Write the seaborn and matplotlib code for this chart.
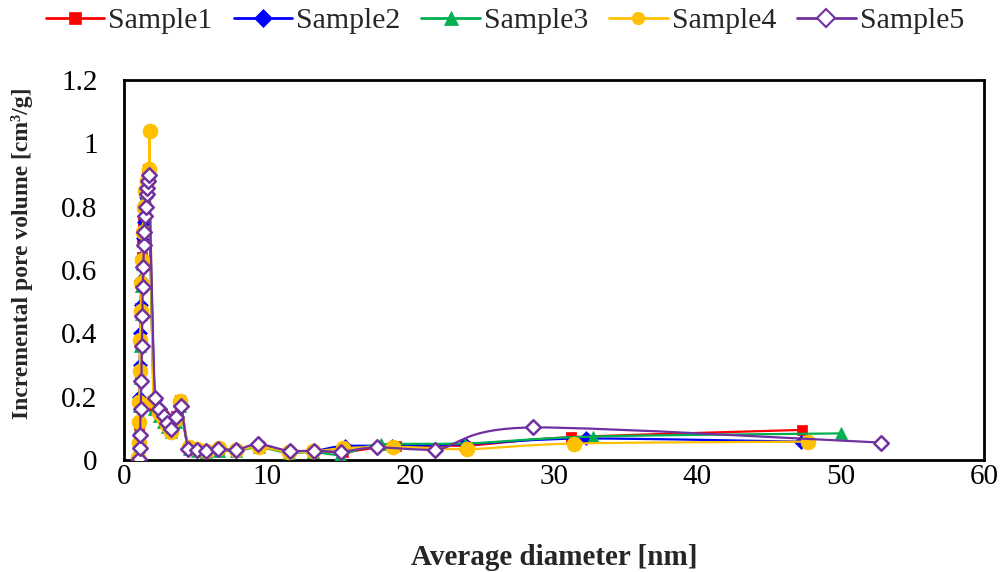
import numpy as np
import pandas as pd
import matplotlib
matplotlib.use("Agg")
import matplotlib.pyplot as plt
from matplotlib.path import Path
from matplotlib.patches import PathPatch
from matplotlib.lines import Line2D
import seaborn as sns

# ---------------- data ----------------
samples = ["Sample1", "Sample2", "Sample3", "Sample4", "Sample5"]

s1_x = [1.00, 1.03, 1.05, 1.07, 1.09, 1.12, 1.15, 1.19, 1.23, 1.28, 1.33, 1.39, 1.45, 1.52, 1.60, 1.70,
        2.10, 2.45, 2.75, 3.00, 3.30, 3.60, 3.90,
        4.5, 5.1, 5.8, 6.6, 7.8, 9.4, 11.5, 13.2, 15.3, 19.0, 23.8, 31.2, 47.3]
s1_y = [0.005, 0.05, 0.11, 0.18, 0.27, 0.37, 0.48, 0.56, 0.64, 0.70, 0.75, 0.80, 0.84, 0.87, 0.90, 0.92,
        0.17, 0.15, 0.14, 0.12, 0.10, 0.14, 0.19,
        0.04, 0.035, 0.03, 0.035, 0.03, 0.045, 0.025, 0.028, 0.025, 0.045, 0.045, 0.072, 0.095]

s2_x = [1.01, 1.04, 1.06, 1.08, 1.11, 1.14, 1.18, 1.22, 1.27, 1.32, 1.37, 1.43, 1.50, 1.57, 1.65, 1.72,
        2.15, 2.50, 2.80, 3.00, 3.30, 3.60, 3.90,
        4.5, 5.1, 5.7, 6.6, 7.8, 9.4, 11.5, 13.2, 15.4, 18.7, 23.8, 32.2, 47.2]
s2_y = [0.005, 0.06, 0.12, 0.20, 0.30, 0.40, 0.49, 0.57, 0.64, 0.70, 0.75, 0.79, 0.83, 0.86, 0.88, 0.90,
        0.19, 0.16, 0.135, 0.115, 0.10, 0.13, 0.175,
        0.038, 0.033, 0.03, 0.034, 0.03, 0.048, 0.027, 0.028, 0.045, 0.045, 0.05, 0.068, 0.058]

s3_x = [1.00, 1.03, 1.05, 1.08, 1.10, 1.13, 1.17, 1.21, 1.26, 1.31, 1.36, 1.42, 1.48, 1.55, 1.63, 1.72,
        2.10, 2.45, 2.75, 3.00, 3.30, 3.60, 3.90,
        4.5, 5.1, 5.7, 6.6, 7.8, 9.4, 11.5, 13.2, 15.1, 17.9, 23.8, 32.7, 50.0]
s3_y = [0.0, 0.04, 0.10, 0.17, 0.26, 0.36, 0.46, 0.55, 0.62, 0.69, 0.74, 0.79, 0.83, 0.86, 0.89, 0.91,
        0.16, 0.14, 0.12, 0.105, 0.09, 0.12, 0.17,
        0.035, 0.03, 0.025, 0.03, 0.028, 0.04, 0.022, 0.025, 0.016, 0.05, 0.052, 0.074, 0.084]

s4_x = [1.00, 1.03, 1.05, 1.07, 1.10, 1.13, 1.17, 1.21, 1.26, 1.32, 1.39, 1.47, 1.57, 1.74, 1.78,
        2.05, 2.45, 2.80, 3.00, 3.30, 3.60, 3.90,
        4.5, 5.1, 5.7, 6.6, 7.8, 9.4, 11.5, 13.2, 15.3, 18.8, 23.9, 31.4, 47.7]
s4_y = [0.005, 0.053, 0.12, 0.184, 0.28, 0.38, 0.47, 0.56, 0.63, 0.72, 0.80, 0.85, 0.88, 0.92, 1.04,
        0.185, 0.15, 0.13, 0.11, 0.09, 0.13, 0.185,
        0.04, 0.035, 0.03, 0.037, 0.032, 0.042, 0.025, 0.027, 0.037, 0.042, 0.034, 0.052, 0.058]

s5_x = [1.07, 1.10, 1.12, 1.16, 1.21, 1.25, 1.28, 1.31, 1.34, 1.40, 1.42, 1.47, 1.51, 1.58, 1.61, 1.67, 1.74,
        2.16, 2.47, 2.79, 2.98, 3.30, 3.60, 3.95,
        4.49, 5.07, 5.72, 6.58, 7.82, 9.37, 11.55, 13.23, 15.13, 17.64, 21.7, 28.56, 52.8]
s5_y = [0.002, 0.037, 0.079, 0.16, 0.25, 0.36, 0.455, 0.545, 0.61, 0.68, 0.72, 0.77, 0.80, 0.84, 0.86, 0.88, 0.90,
        0.197, 0.16, 0.14, 0.118, 0.098, 0.135, 0.171,
        0.034, 0.032, 0.03, 0.034, 0.032, 0.05, 0.028, 0.029, 0.026, 0.04, 0.032, 0.103, 0.055]

x_ticks = [0, 10, 20, 30, 40, 50, 60]
y_ticks = [0, 0.2, 0.4, 0.6, 0.8, 1, 1.2]
y_tick_labels = ["0", "0.2", "0.4", "0.6", "0.8", "1", "1.2"]

# ---------------- styles ----------------
colors = {"Sample1": "#FF0000", "Sample2": "#0000FF", "Sample3": "#00B050",
          "Sample4": "#FFC000", "Sample5": "#7030A0"}
markers = {"Sample1": "s", "Sample2": "D", "Sample3": "^", "Sample4": "o", "Sample5": "D"}
msizes = {"Sample1": 55, "Sample2": 50, "Sample3": 75, "Sample4": 115, "Sample5": 55}
faces = {"Sample1": "#FF0000", "Sample2": "#0000FF", "Sample3": "#00B050",
         "Sample4": "#FFC000", "Sample5": "white"}

xs = [s1_x, s2_x, s3_x, s4_x, s5_x]
ys = [s1_y, s2_y, s3_y, s4_y, s5_y]
df = pd.concat([pd.DataFrame({"x": x, "y": y, "sample": s}) for s, x, y in zip(samples, xs, ys)],
               ignore_index=True)

sns.set_theme(style="white")
plt.rcParams["font.family"] = ["Liberation Serif", "DejaVu Serif"]

fig = plt.figure(figsize=(10.02, 5.72), dpi=100)
ax = fig.add_axes([124 / 1002, 1 - 460 / 572, (984 - 124) / 1002, (460 - 80) / 572])


def smooth_path(x, y):
    """Excel-like smoothed line: cubic Bezier segments through the data points
    (control points kept inside each segment's y-range to avoid overshoot)."""
    p = np.column_stack([x, y]).astype(float)
    n = len(p)
    verts = [p[0]]
    codes = [Path.MOVETO]
    for i in range(n - 1):
        p0 = p[i - 1] if i > 0 else p[i]
        p1 = p[i]
        p2 = p[i + 1]
        p3 = p[i + 2] if i + 2 < n else p[i + 1]
        c1 = p1 + (p2 - p0) / 6.0
        c2 = p2 - (p3 - p1) / 6.0
        lo, hi = min(p1[1], p2[1]), max(p1[1], p2[1])
        c1[1] = np.clip(c1[1], lo, hi)
        c2[1] = np.clip(c2[1], lo, hi)
        verts += [c1, c2, p2]
        codes += [Path.CURVE4] * 3
    return Path(verts, codes)


for i, s in enumerate(samples):
    sub = df[df["sample"] == s]
    patch = PathPatch(smooth_path(sub["x"].values, sub["y"].values), facecolor="none",
                      edgecolor=colors[s], lw=1.6, transform=ax.transData, zorder=2 + 2 * i)
    ax.add_patch(patch)
    sns.scatterplot(data=sub, x="x", y="y", ax=ax, marker=markers[s], s=msizes[s],
                    color=faces[s], edgecolor=colors[s],
                    linewidth=1.8 if s == "Sample5" else 0.5, zorder=3 + 2 * i, legend=False)

ax.set_xlim(0, 60)
ax.set_ylim(0, 1.2)
ax.set_xticks(x_ticks)
ax.set_xticklabels([str(t) for t in x_ticks])
ax.set_yticks(y_ticks)
ax.set_yticklabels(y_tick_labels)
ax.tick_params(axis="both", length=0, labelsize=21, colors="black")
ax.tick_params(axis="x", pad=3)
ax.tick_params(axis="y", pad=19)
for sp in ax.spines.values():
    sp.set_color("black")
    sp.set_linewidth(2)
    sp.set_visible(True)
ax.grid(False)

ax.set_xlabel("Average diameter [nm]", fontsize=21, fontweight="bold")
ax.set_ylabel("Incremental pore volume [cm³/g]", fontsize=17, fontweight="bold")
ax.xaxis.set_label_coords(0.5, -0.222)
ax.yaxis.set_label_coords(-0.106, 0.545)

handles = []
for s in samples:
    handles.append(Line2D([0], [0], color=colors[s], lw=2, marker=markers[s],
                          markersize=9 if s != "Sample3" else 10,
                          markerfacecolor=faces[s], markeredgecolor=colors[s],
                          markeredgewidth=1.5 if s == "Sample5" else 0.5))
fig.legend(handles, samples, loc="center", bbox_to_anchor=(505 / 1002, 1 - 21 / 572), ncol=5,
           frameon=False, fontsize=21.5, handlelength=1.95, handletextpad=0.15, columnspacing=0.7)

fig.savefig("out.png", dpi=100, facecolor="white")
